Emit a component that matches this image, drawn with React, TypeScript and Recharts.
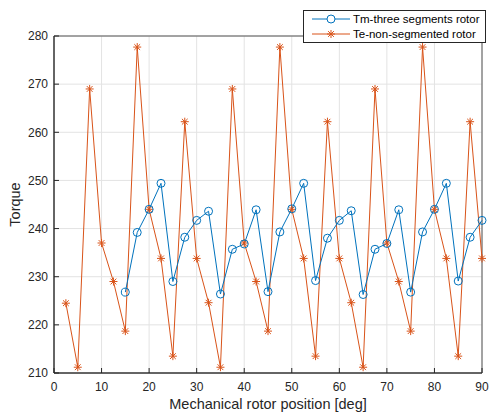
import React from 'react';
import {
  LineChart,
  Line,
  XAxis,
  YAxis,
  CartesianGrid,
  ReferenceArea,
  Label
} from 'recharts';

// rotor positions in degrees
const positions = [
  2.5, 5, 7.5, 10, 12.5, 15, 17.5, 20, 22.5, 25, 27.5, 30,
  32.5, 35, 37.5, 40, 42.5, 45, 47.5, 50, 52.5, 55, 57.5, 60,
  62.5, 65, 67.5, 70, 72.5, 75, 77.5, 80, 82.5, 85, 87.5, 90
];

// Te, non-segmented rotor
const teValues = [
  224.5, 211.2, 269.0, 237.0, 229.0, 218.7, 277.7, 244.0, 233.8, 213.5, 262.2, 233.8,
  224.6, 211.2, 269.0, 237.0, 229.0, 218.7, 277.7, 244.0, 233.8, 213.5, 262.2, 233.8,
  224.6, 211.2, 269.0, 237.0, 229.0, 218.7, 277.7, 244.0, 233.8, 213.5, 262.2, 233.8
];

// Tm, three segments rotor (starts at 15 deg)
const tmValues = [
  null, null, null, null, null, 226.8, 239.2, 244.0, 249.4, 229.0, 238.2, 241.7,
  243.6, 226.4, 235.7, 236.8, 243.9, 226.9, 239.3, 244.1, 249.4, 229.2, 238.0, 241.7,
  243.7, 226.3, 235.7, 236.9, 243.9, 226.8, 239.3, 244.0, 249.4, 229.1, 238.2, 241.7
];

const xTicks = [0, 10, 20, 30, 40, 50, 60, 70, 80, 90];
const yTicks = [210, 220, 230, 240, 250, 260, 270, 280];

const seriesNames = ['Tm-three segments rotor', 'Te-non-segmented rotor'];

const BLUE = '#0072BD';
const ORANGE = '#D95319';
const AXIS = '#262626';
const FONT = '"Liberation Sans", Arial, Helvetica, sans-serif';

const chartData = positions.map((pos, i) => ({
  pos,
  te: teValues[i],
  tm: tmValues[i]
}));

const CircleDot = (props: any) => {
  const { cx, cy, value } = props;
  if (value == null || cx == null || cy == null) return <g key={props.key} />;
  return <circle key={props.key} cx={cx} cy={cy} r={4} fill="none" stroke={BLUE} strokeWidth={1} />;
};

const StarShape = ({ cx, cy, color }: { cx: number; cy: number; color: string }) => {
  const r = 4;
  const d = r * 0.72;
  return (
    <g stroke={color} strokeWidth={1}>
      <line x1={cx - r} y1={cy} x2={cx + r} y2={cy} />
      <line x1={cx} y1={cy - r} x2={cx} y2={cy + r} />
      <line x1={cx - d} y1={cy - d} x2={cx + d} y2={cy + d} />
      <line x1={cx - d} y1={cy + d} x2={cx + d} y2={cy - d} />
    </g>
  );
};

const StarDot = (props: any) => {
  const { cx, cy, value } = props;
  if (value == null || cx == null || cy == null) return <g key={props.key} />;
  return (
    <g key={props.key}>
      <StarShape cx={cx} cy={cy} color={ORANGE} />
    </g>
  );
};

const LegendBox = () => (
  <div
    style={{
      position: 'absolute',
      left: 303,
      top: 10,
      width: 183,
      height: 33,
      background: '#fff',
      border: `1px solid ${AXIS}`,
      fontFamily: FONT,
      fontSize: 11.5,
      color: '#000',
      boxSizing: 'border-box'
    }}
  >
    {seriesNames.map((name, i) => (
      <div key={name} style={{ position: 'absolute', left: 0, top: i === 0 ? 1 : 16, height: 14, display: 'flex', alignItems: 'center' }}>
        <svg width={49} height={14} style={{ display: 'block' }}>
          <line x1={8} y1={7} x2={46} y2={7} stroke={i === 0 ? BLUE : ORANGE} strokeWidth={1} />
          {i === 0 ? (
            <circle cx={27} cy={7} r={4} fill="#fff" stroke={BLUE} strokeWidth={1} />
          ) : (
            <StarShape cx={27} cy={7} color={ORANGE} />
          )}
        </svg>
        <span style={{ whiteSpace: 'nowrap' }}>{name}</span>
      </div>
    ))}
  </div>
);

export default function App() {
  return (
    <div style={{ position: 'absolute', left: 0, top: 0, width: 489, height: 415, background: '#fff' }}>
      <LineChart
        width={489}
        height={415}
        data={chartData}
        margin={{ top: 36, right: 7, left: 0, bottom: 0 }}
      >
        <CartesianGrid stroke="#e3e3e3" strokeWidth={1} />
        <XAxis
          dataKey="pos"
          type="number"
          domain={[0, 90]}
          ticks={xTicks}
          height={42}
          stroke={AXIS}
          tickSize={-5}
          tickMargin={14}
          tick={{ fill: AXIS, fontSize: 12, fontFamily: FONT }}
        >
          <Label
            value="Mechanical rotor position [deg]"
            position="insideBottom"
            offset={6}
            style={{ fill: AXIS, fontSize: 14.5, fontFamily: FONT }}
          />
        </XAxis>
        <YAxis
          type="number"
          domain={[210, 280]}
          ticks={yTicks}
          width={54}
          stroke={AXIS}
          tickSize={-5}
          tickMargin={11}
          tick={{ fill: AXIS, fontSize: 12, fontFamily: FONT }}
        >
          <Label
            value="Torque"
            angle={-90}
            position="insideLeft"
            offset={15}
            style={{ fill: AXIS, fontSize: 14.5, fontFamily: FONT, textAnchor: 'middle' }}
          />
        </YAxis>
        <ReferenceArea x1={0} x2={90} y1={210} y2={280} fill="none" stroke="#555" strokeWidth={1} ifOverflow="visible" />
        <Line
          dataKey="te"
          stroke={ORANGE}
          strokeWidth={1}
          dot={StarDot}
          activeDot={false}
          isAnimationActive={false}
        />
        <Line
          dataKey="tm"
          stroke={BLUE}
          strokeWidth={1}
          dot={CircleDot}
          activeDot={false}
          isAnimationActive={false}
        />
      </LineChart>
      <LegendBox />
    </div>
  );
}
